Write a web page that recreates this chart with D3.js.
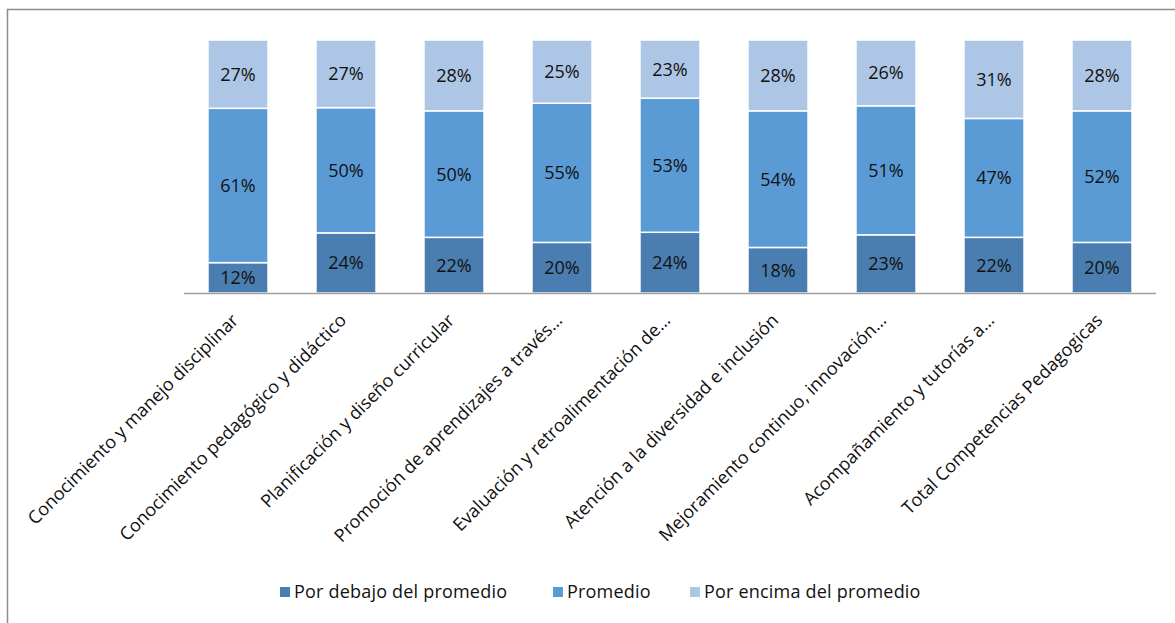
<!DOCTYPE html>
<html>
<head>
<meta charset="utf-8">
<script src="https://cdn.jsdelivr.net/npm/d3@7"></script>
<style>
  body { margin: 0; background: #fff; }
  svg { display: block; font-family: "Open Sans", "DejaVu Sans", sans-serif; }
</style>
</head>
<body>
<svg width="1175" height="623"></svg>
<script>
// Chart data
var categories = [
    "Conocimiento y manejo disciplinar",
    "Conocimiento pedagógico y didáctico",
    "Planificación y diseño curricular",
    "Promoción de aprendizajes a través…",
    "Evaluación y retroalimentación de…",
    "Atención a la diversidad e inclusión",
    "Mejoramiento continuo, innovación…",
    "Acompañamiento y tutorías a…",
    "Total Competencias Pedagogicas"
];
var seriesNames = ["Por debajo del promedio", "Promedio", "Por encima del promedio"];
var belowAvg = [12, 24, 22, 20, 24, 18, 23, 22, 20];
var average = [61, 50, 50, 55, 53, 54, 51, 47, 52];
var aboveAvg = [27, 27, 28, 25, 23, 28, 26, 31, 28];

var colors = ["#4a7eb0", "#5b9bd5", "#adc6e5"];

var svg = d3.select("svg"),
    width = +svg.attr("width"),
    height = +svg.attr("height");

// outer frame (left and top edges visible)
svg.append("path")
    .attr("d", "M7.5,623 L7.5,9.5 L1175,9.5")
    .attr("fill", "none")
    .attr("stroke", "#8c8c8c")
    .attr("stroke-width", 1.5);

var plotLeft = 184, plotRight = 1156, plotTop = 40, plotBottom = 293;

// build rows for stacking, normalised to 100%
var rows = categories.map(function (c, i) {
    var vals = [belowAvg[i], average[i], aboveAvg[i]];
    var total = d3.sum(vals);
    return { cat: c, raw: vals, s0: vals[0] / total, s1: vals[1] / total, s2: vals[2] / total };
});

var stack = d3.stack().keys(["s0", "s1", "s2"]);
var layers = stack(rows);

var x = d3.scaleBand()
    .domain(categories)
    .range([plotLeft, plotRight])
    .paddingInner(0.444)
    .paddingOuter(0.222);

var y = d3.scaleLinear()
    .domain([0, 1])
    .range([plotBottom, plotTop]);

var g = svg.append("g");

layers.forEach(function (layer, k) {
    var grp = g.append("g");
    grp.selectAll("rect")
        .data(layer)
        .enter()
        .append("rect")
        .attr("x", d => x(d.data.cat))
        .attr("y", d => y(d[1]))
        .attr("width", x.bandwidth())
        .attr("height", d => y(d[0]) - y(d[1]))
        .attr("fill", colors[k])
        .attr("stroke", "#fff")
        .attr("stroke-width", 1.5);

    grp.selectAll("text")
        .data(layer)
        .enter()
        .append("text")
        .attr("x", d => x(d.data.cat) + x.bandwidth() / 2)
        .attr("y", d => (y(d[0]) + y(d[1])) / 2)
        .attr("dy", "0.36em")
        .attr("text-anchor", "middle")
        .attr("font-size", "18px")
        .attr("fill", "#111")
        .text((d, i) => d.data.raw[k] + "%");
});

// baseline
svg.append("line")
    .attr("x1", plotLeft)
    .attr("x2", plotRight)
    .attr("y1", plotBottom + 0.5)
    .attr("y2", plotBottom + 0.5)
    .attr("stroke", "#a0a0a0")
    .attr("stroke-width", 1.5);

// rotated category labels
svg.append("g").selectAll("text")
    .data(categories)
    .enter()
    .append("text")
    .attr("transform", d => "translate(" + (x(d) + x.bandwidth() / 2 - 3) + "," + (plotBottom + 24) + ") rotate(-45)")
    .attr("text-anchor", "end")
    .attr("dy", "0.35em")
    .attr("font-size", "18px")
    .attr("fill", "#111")
    .text(d => d);

// legend
var legendX = [280, 553, 690];
var legend = svg.append("g");
seriesNames.forEach(function (name, k) {
    legend.append("rect")
        .attr("x", legendX[k])
        .attr("y", 587)
        .attr("width", 10)
        .attr("height", 10)
        .attr("fill", colors[k]);
    legend.append("text")
        .attr("x", legendX[k] + 14)
        .attr("y", 592)
        .attr("dy", "0.35em")
        .attr("font-size", "18px")
        .attr("letter-spacing", "0.2px")
        .attr("fill", "#111")
        .text(name);
});
</script>
</body>
</html>
